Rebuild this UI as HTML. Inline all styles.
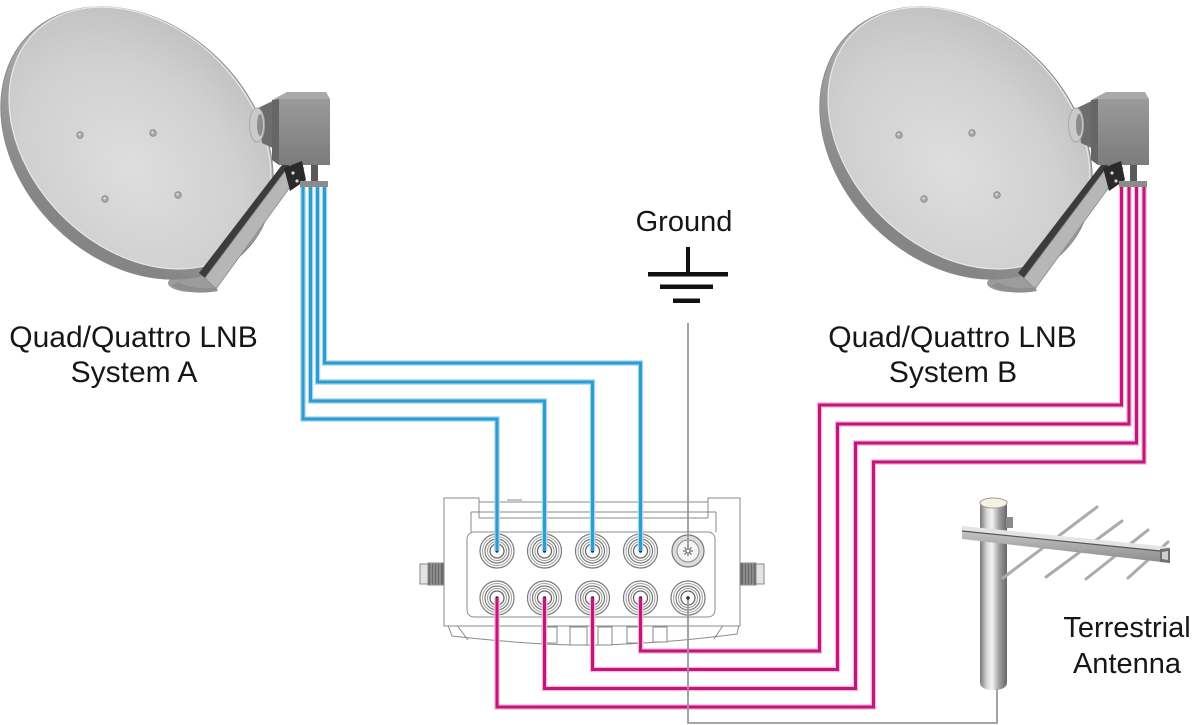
<!DOCTYPE html>
<html>
<head>
<meta charset="utf-8">
<style>
html,body{margin:0;padding:0;background:#fff;}
svg{display:block;}
text{font-family:"Liberation Sans",Arial,sans-serif;fill:#161616;}
</style>
</head>
<body>
<svg width="1193" height="725" viewBox="0 0 1193 725" xmlns="http://www.w3.org/2000/svg">
<defs>
  <linearGradient id="rimG" x1="0" y1="0" x2="0.3" y2="1">
    <stop offset="0" stop-color="#d2d2d2"/>
    <stop offset="0.5" stop-color="#a8a8a8"/>
    <stop offset="1" stop-color="#858585"/>
  </linearGradient>
  <radialGradient id="faceG" cx="0.55" cy="0.62" r="0.7">
    <stop offset="0" stop-color="#dedede"/>
    <stop offset="0.6" stop-color="#d0d0d0"/>
    <stop offset="1" stop-color="#bdbdbd"/>
  </radialGradient>
  <linearGradient id="boxG" x1="0" y1="0" x2="0" y2="1">
    <stop offset="0" stop-color="#9a9a9a"/>
    <stop offset="1" stop-color="#7c7c7c"/>
  </linearGradient>
  <linearGradient id="poleG" x1="0" y1="0" x2="1" y2="0">
    <stop offset="0" stop-color="#777"/>
    <stop offset="0.25" stop-color="#d6d6d6"/>
    <stop offset="0.45" stop-color="#f3f3f3"/>
    <stop offset="0.7" stop-color="#a2a2a2"/>
    <stop offset="1" stop-color="#666"/>
  </linearGradient>
  <linearGradient id="boomG" x1="0" y1="0" x2="0" y2="1">
    <stop offset="0" stop-color="#c4c4c4"/>
    <stop offset="1" stop-color="#8c8c8c"/>
  </linearGradient>

  <g id="dish">
    <!-- back cup -->
    <ellipse cx="192" cy="283" rx="24" ry="9" fill="#9c9c9c"/>
    <!-- rim -->
    <ellipse cx="137" cy="143" rx="153" ry="117" transform="rotate(45 137 143)" fill="url(#rimG)" stroke="#8a8a8a" stroke-width="1"/>
    <!-- face -->
    <ellipse cx="140" cy="138" rx="149" ry="110" transform="rotate(45 140 138)" fill="url(#faceG)" stroke="#e9e9e9" stroke-width="1.2"/>
    <!-- screws -->
    <g fill="#a9a9a9" stroke="#8a8a8a" stroke-width="0.8">
      <circle cx="80" cy="135" r="3.3"/>
      <circle cx="153" cy="133" r="3.3"/>
      <circle cx="105" cy="199" r="3.3"/>
      <circle cx="178" cy="195" r="3.3"/>
    </g>
    <g fill="#e6e6e6">
      <circle cx="79.5" cy="134.3" r="1.1"/>
      <circle cx="152.5" cy="132.3" r="1.1"/>
      <circle cx="104.5" cy="198.3" r="1.1"/>
      <circle cx="177.5" cy="194.3" r="1.1"/>
    </g>
    <!-- arm -->
    <polygon points="199,273 285,161 292,162 205,278" fill="#3c3c3c"/>
    <polygon points="205,278 292,162 304,168 216,289" fill="#b6b6b6" stroke="#8a8a8a" stroke-width="0.8"/>
    <path d="M172,286 Q190,296 218,291 L216,287 Q195,291 178,282 Z" fill="#8e8e8e"/>
    <!-- feedhorn -->
    <polygon points="258,108 279,98 281,152 262,143" fill="#6d6d6d"/>
    <ellipse cx="257" cy="125" rx="7.5" ry="17" fill="#cacaca" stroke="#a8a8a8" stroke-width="1"/>
    <ellipse cx="260" cy="125" rx="3" ry="11" fill="#8c8c8c"/>
    <!-- LNB box -->
    <polygon points="272,100 279,99 279,165 272,160" fill="#666"/>
    <rect x="279" y="99" width="51" height="66" fill="url(#boxG)"/>
    <polygon points="272,100 287,92 326,92 330,99 279,99" fill="#a9a9a9"/>
    <!-- bracket -->
    <polygon points="284,168 302,161 306,180 290,191" fill="#2a2a2a"/>
    <circle cx="293" cy="173" r="1.6" fill="#d8d8d8"/>
    <circle cx="297" cy="181" r="1.6" fill="#d8d8d8"/>
    <!-- stem & connector -->
    <rect x="311" y="165" width="7" height="17" fill="#5a5a5a"/>
    <rect x="300" y="181" width="28" height="6" fill="#8b8b8b"/>
  </g>

  <g id="port">
    <circle r="17" fill="#fff" stroke="#7a7a7a" stroke-width="1.2"/>
    <circle r="14.5" fill="none" stroke="#a3a3a3" stroke-width="1"/>
    <circle r="12" fill="none" stroke="#777" stroke-width="1.2"/>
    <circle r="9.5" fill="none" stroke="#9a9a9a" stroke-width="1"/>
    <circle r="7" fill="none" stroke="#666" stroke-width="1.3"/>
    <circle r="1.7" fill="#333"/>
  </g>
</defs>

<rect width="1193" height="725" fill="#fff"/>

<!-- Dishes -->
<use href="#dish"/>
<use href="#dish" x="819"/>

<!-- Labels -->
<text x="133.5" y="347" font-size="30" text-anchor="middle">Quad/Quattro LNB</text>
<text x="134" y="382" font-size="30" text-anchor="middle">System A</text>
<text x="952.5" y="347" font-size="30" text-anchor="middle">Quad/Quattro LNB</text>
<text x="953" y="382" font-size="30" text-anchor="middle">System B</text>
<text x="684" y="231" font-size="29" text-anchor="middle">Ground</text>
<text x="1127" y="637" font-size="29" text-anchor="middle">Terrestrial</text>
<text x="1127" y="673" font-size="29" text-anchor="middle">Antenna</text>

<!-- Ground symbol -->
<g fill="#111">
  <rect x="686" y="247" width="4" height="27"/>
  <rect x="648" y="272" width="80" height="4.5"/>
  <rect x="660" y="284.5" width="53" height="4.5"/>
  <rect x="673" y="298.5" width="27" height="4.5"/>
</g>

<!-- Switch -->
<g fill="none" stroke="#8a8a8a" stroke-width="1">
  <!-- side connectors -->
  <rect x="420" y="564" width="8" height="20" fill="#e4e4e4"/>
  <rect x="428" y="563" width="16" height="22" fill="#6a6a6a"/>
  <g stroke="#bbb" stroke-width="0.8">
    <line x1="431" y1="563" x2="431" y2="585"/>
    <line x1="434" y1="563" x2="434" y2="585"/>
    <line x1="437" y1="563" x2="437" y2="585"/>
    <line x1="440" y1="563" x2="440" y2="585"/>
  </g>
  <rect x="756" y="564" width="8" height="20" fill="#e4e4e4"/>
  <rect x="740" y="563" width="16" height="22" fill="#6a6a6a"/>
  <g stroke="#bbb" stroke-width="0.8">
    <line x1="744" y1="563" x2="744" y2="585"/>
    <line x1="747" y1="563" x2="747" y2="585"/>
    <line x1="750" y1="563" x2="750" y2="585"/>
    <line x1="753" y1="563" x2="753" y2="585"/>
  </g>
  <!-- bottom skirt -->
  <path d="M446,620 L452,636 Q540,646 600,645 Q670,643 737,634 L740,620" fill="#fff"/>
  <rect x="542" y="627" width="15" height="16" fill="#fff"/>
  <rect x="570" y="627" width="17" height="18" fill="#fff"/>
  <rect x="598" y="627" width="14" height="18" fill="#fff"/>
  <rect x="627" y="627" width="13" height="16" fill="#fff"/>
  <rect x="653" y="627" width="14" height="15" fill="#fff"/>
  <line x1="456" y1="624" x2="468" y2="640"/>
  <line x1="724" y1="624" x2="714" y2="639"/>
  <!-- body -->
  <path d="M444,498 H479 V502 H708 V498 H740 V626 H444 Z" fill="#fff"/>
  <line x1="471" y1="512" x2="716" y2="512"/>
  <line x1="479" y1="518" x2="708" y2="518"/>
  <line x1="479" y1="502" x2="479" y2="518"/>
  <line x1="708" y1="502" x2="708" y2="518"/>
  <line x1="471" y1="512" x2="471" y2="532"/>
  <line x1="716" y1="512" x2="716" y2="532"/>
  <line x1="507" y1="500" x2="522" y2="500"/>
  <rect x="467" y="532" width="248" height="85" rx="7" fill="#fff"/>
</g>
<!-- ports -->
<use href="#port" x="497" y="551"/>
<use href="#port" x="544.5" y="551"/>
<use href="#port" x="592.5" y="551"/>
<use href="#port" x="640.5" y="551"/>
<use href="#port" x="497" y="598"/>
<use href="#port" x="544.5" y="598"/>
<use href="#port" x="592.5" y="598"/>
<use href="#port" x="640.5" y="598"/>
<use href="#port" x="688" y="598"/>
<g>
  <circle cx="688" cy="551" r="16" fill="#dcdcdc" stroke="#777" stroke-width="1.2"/>
  <circle cx="688" cy="551" r="11" fill="#f4f4f4" stroke="#8a8a8a" stroke-width="1"/>
  <g stroke="#555" stroke-width="1">
    <line x1="683" y1="551" x2="693" y2="551"/>
    <line x1="688" y1="546" x2="688" y2="556"/>
    <line x1="684.5" y1="547.5" x2="691.5" y2="554.5"/>
    <line x1="691.5" y1="547.5" x2="684.5" y2="554.5"/>
  </g>
  <circle cx="688" cy="551" r="2" fill="#fff" stroke="#555" stroke-width="0.8"/>
</g>

<!-- Antenna -->
<g>
  <path d="M980,503 V682 Q980,690 993.5,690 Q1007,690 1007,682 V503 Z" fill="url(#poleG)"/>
  <ellipse cx="993.5" cy="503" rx="13.5" ry="5" fill="#f6f2e2" stroke="#9a9a9a" stroke-width="1"/>
  <rect x="1006" y="517" width="7" height="11" fill="#8a8a8a"/>
  <g stroke="#ababab" stroke-width="3" stroke-linecap="round">
    <line x1="1003" y1="578" x2="1097" y2="507"/>
    <line x1="1046" y1="577" x2="1122" y2="521"/>
    <line x1="1086" y1="579" x2="1148" y2="530"/>
    <line x1="1128" y1="578" x2="1168" y2="542"/>
  </g>
  <polygon points="962,526 1170,547 1170,552 962,531" fill="#e4e4e4"/>
  <polygon points="962,531 1170,552 1170,563 962,539" fill="url(#boomG)"/>
  <line x1="962" y1="531" x2="1170" y2="552" stroke="#555" stroke-width="1.2"/>
  <polygon points="1160,549 1170,548 1170,563 1160,562" fill="#707070"/>
  <polygon points="1162,552 1168,551 1168,560 1162,559" fill="#cfcfcf"/>
</g>

<!-- Cables: halos -->
<g fill="none" stroke-width="5.5" stroke-linejoin="miter">
  <g stroke="#a6d9ef">
    <path d="M303,187 V419 H497 V551"/>
    <path d="M310.5,187 V401 H544.5 V551"/>
    <path d="M317.5,187 V382 H592.5 V551"/>
    <path d="M324.5,187 V363 H640.5 V551"/>
  </g>
  <g stroke="#f6b9db">
    <path d="M1121.5,187 V405 H819.5 V651 H640.5 V598"/>
    <path d="M1129,187 V424 H837.5 V669.5 H592.5 V598"/>
    <path d="M1136.5,187 V443 H855.5 V688.5 H544.5 V598"/>
    <path d="M1144,187 V462 H873.5 V707 H497 V598"/>
  </g>
</g>
<!-- Cables: cores -->
<g fill="none" stroke-width="3" stroke-linejoin="miter">
  <g stroke="#2f9bd0">
    <path d="M303,187 V419 H497 V551"/>
    <path d="M310.5,187 V401 H544.5 V551"/>
    <path d="M317.5,187 V382 H592.5 V551"/>
    <path d="M324.5,187 V363 H640.5 V551"/>
  </g>
  <g stroke="#c2177a">
    <path d="M1121.5,187 V405 H819.5 V651 H640.5 V598"/>
    <path d="M1129,187 V424 H837.5 V669.5 H592.5 V598"/>
    <path d="M1136.5,187 V443 H855.5 V688.5 H544.5 V598"/>
    <path d="M1144,187 V462 H873.5 V707 H497 V598"/>
  </g>
</g>
<!-- Gray lines -->
<g fill="none" stroke="#999" stroke-width="1.8">
  <path d="M688,323 V547"/>
  <path d="M688,598 V723 H997 V689"/>
</g>
<circle cx="688" cy="598" r="1.7" fill="#333"/>
</svg>
</body>
</html>
